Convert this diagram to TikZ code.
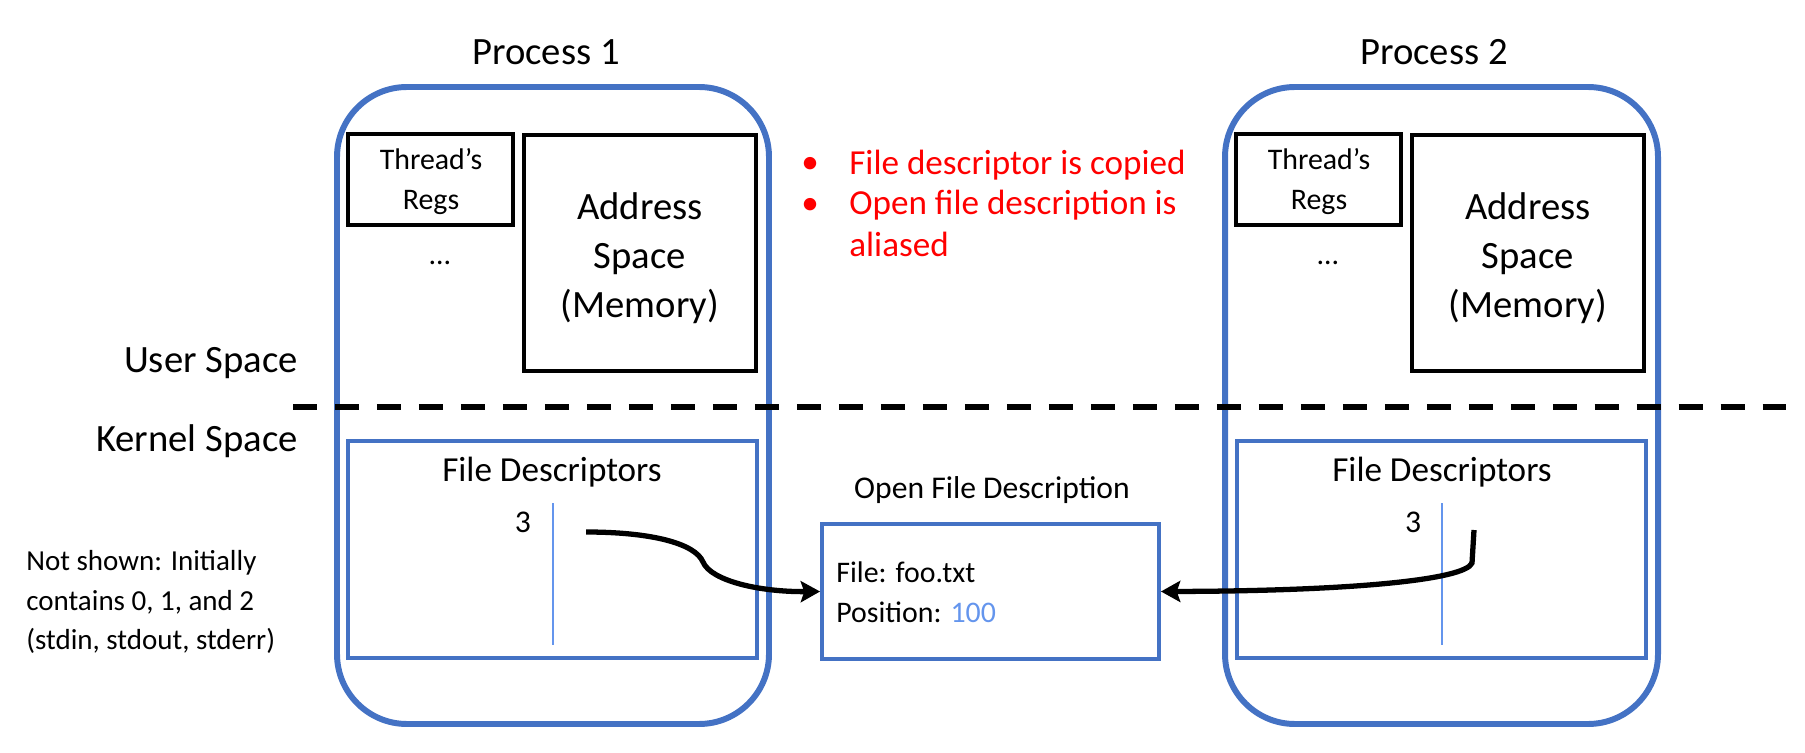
\documentclass[tikz,border=0pt]{standalone}
\usepackage{fontspec}
\setmainfont{Carlito}
\usetikzlibrary{fit,arrows.meta}
\definecolor{pblue}{RGB}{68,114,196}
\definecolor{lblue}{RGB}{100,149,237}
\definecolor{redtxt}{RGB}{255,0,0}
\begin{document}
\begin{tikzpicture}[x=0.02cm,y=-0.02cm,
  procbox/.style={draw=pblue, line width=3.4pt, rounded corners=1.4cm, inner sep=0pt},
  blackbox/.style={draw=black, line width=2.3pt, inner sep=0pt},
  fdbox/.style={draw=pblue, line width=2.2pt, inner sep=0pt},
  ofdbox/.style={draw=pblue, line width=2.2pt, inner sep=0pt},
  fdline/.style={draw=lblue, line width=1.2pt},
  dashline/.style={draw=black, line width=3.2pt, dash pattern=on 13.7pt off 10.2pt},
  conn/.style={draw=black, line width=3pt, -{Stealth[length=11pt,width=12pt,inset=2pt]}},
  bigtxt/.style={font=\fontsize{22}{28}\selectfont, align=center, inner sep=0pt},
  regtxt/.style={font=\fontsize{17}{22.8}\selectfont, align=center, inner sep=0pt},
  fdtxt/.style={font=\fontsize{20}{24}\selectfont, inner sep=0pt},
  numtxt/.style={font=\fontsize{18}{22}\selectfont, inner sep=0pt},
  smalltxt/.style={font=\fontsize{17}{21}\selectfont, inner sep=0pt, align=left},
  notetxt/.style={font=\fontsize{16.5}{22.5}\selectfont, inner sep=0pt, align=left},
  redtext/.style={font=\fontsize{20}{23.5}\selectfont, text=redtxt, inner sep=0pt, align=left}
]
\path[use as bounding box] (0,0) rectangle (1805,753);

% process titles
\node[bigtxt] (p1title) at (546,52) {Process 1};
\node[bigtxt] (p2title) at (1434,52) {Process 2};

% process boxes
\node[procbox, fit={(337,87) (769,724)}] (p1) {};
\node[procbox, fit={(1225,87) (1658,724)}] (p2) {};

% user-space contents
\node[blackbox, fit={(348,134) (513,225)}] (regs1) {};
\node[regtxt] (regs1t) at (431,182) {Thread’s\\Regs};
\node[blackbox, fit={(524,135) (756,371)}] (as1) {};
\node[bigtxt] (as1t) at (640,258) {Address\\Space\\(Memory)};
\node[regtxt] (dots1) at (440,263) {\ldots};
\node[blackbox, fit={(1236,134) (1401,225)}] (regs2) {};
\node[regtxt] (regs2t) at (1319,182) {Thread’s\\Regs};
\node[blackbox, fit={(1412,135) (1644,371)}] (as2) {};
\node[bigtxt] (as2t) at (1528,258) {Address\\Space\\(Memory)};
\node[regtxt] (dots2) at (1328,263) {\ldots};

% red notes
\node[redtext] (b1) at (810,165) {•};
\node[redtext, anchor=west] (n1) at (849,165) {File descriptor is copied};
\node[redtext] (b2) at (810,206) {•};
\node[redtext, anchor=north west] (n2) at (849,190) {Open file description is\\aliased};

% space labels
\node[bigtxt, anchor=east] (us) at (298,363) {User Space};
\node[bigtxt, anchor=east] (ks) at (298,441) {Kernel Space};
\coordinate (dl) at (293,407);
\coordinate (dr) at (1786,407);
\draw[dashline] (dl) -- (dr);

% file descriptor tables
\node[fdbox, fit={(348,441) (757,658)}] (fd1) {};
\node[fdtxt] (fd1t) at (552,472) {File Descriptors};
\node[numtxt] (fd1n) at (523,522) {3};
\coordinate (fd1a) at (553,503);
\coordinate (fd1b) at (553,645);
\draw[fdline] (fd1a) -- (fd1b);

\node[fdbox, fit={(1237,441) (1646,658)}] (fd2) {};
\node[fdtxt] (fd2t) at (1442,472) {File Descriptors};
\node[numtxt] (fd2n) at (1413,522) {3};
\coordinate (fd2a) at (1442,503);
\coordinate (fd2b) at (1442,645);
\draw[fdline] (fd2a) -- (fd2b);

% open file description
\node[font=\fontsize{18}{22}\selectfont, inner sep=0pt] (ofdt) at (992,490) {Open File Description};
\node[ofdbox, fit={(822,524) (1159,659)}] (ofd) {};
\node[smalltxt, anchor=west] (ofdtxt) at (836,592) {File: foo.txt\\[2pt]Position: \textcolor{lblue}{100}};

% note
\node[notetxt, anchor=west] (note) at (26,602) {Not shown: Initially\\contains 0, 1, and 2\\(stdin, stdout, stderr)};

% connectors
\coordinate (s1) at (586,532);
\coordinate (k1) at (703,562);
\draw[conn] (s1) .. controls (650,532) and (695,543) .. (k1)
  .. controls (711,581) and (760,592) .. (ofd.west);
\coordinate (s2) at (1474,530);
\coordinate (k2) at (1472,563);
\draw[conn] (s2) -- (k2) .. controls (1465,580) and (1350,591) .. (ofd.east);
\end{tikzpicture}
\end{document}
